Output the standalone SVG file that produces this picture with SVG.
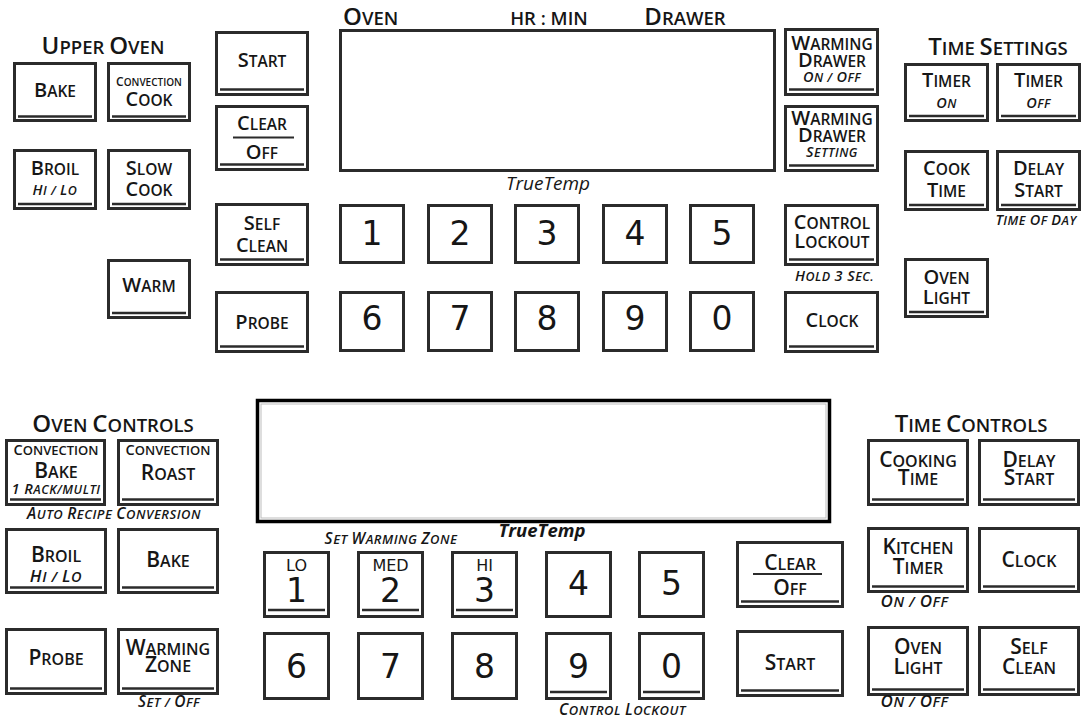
<svg xmlns="http://www.w3.org/2000/svg" width="1086" height="718" viewBox="0 0 1086 718">
<style>
.k rect{fill:#fff;stroke:#2b2b2b;stroke-width:3}
.k line{stroke:#2b2b2b;stroke-width:2.6}
text{font-family:"Open Sans","Liberation Sans",sans-serif;font-weight:600;fill:#161616;text-anchor:middle}
.u{font-size:15.5px}.u .C{font-size:20px}
.l{font-size:16px}.l .C{font-size:21px}
.h{font-size:18.5px}.h .C{font-size:24px}
.i{font-style:italic;font-size:12.5px;letter-spacing:0.5px}.i .C{font-size:14.5px}
.il{font-style:italic;font-size:14.5px;letter-spacing:0.6px}.il .C{font-size:17px}
.ib{font-style:italic;font-size:13px;letter-spacing:0.5px}.ib .C{font-size:15.5px}
.cu{font-size:10px}.cu .C{font-size:12px}
.cl{font-size:13px}.cl .C{font-size:14.5px}
.d{font-family:"DejaVu Sans",sans-serif;font-weight:normal;font-size:33px}
.lm{font-family:"DejaVu Sans",sans-serif;font-weight:normal;font-size:16px}
.tt{font-style:italic;font-weight:500;font-size:19px}
.ttb{font-style:italic;font-weight:700;font-size:18.5px}
.sep{stroke:#2b2b2b;stroke-width:2}
</style>

<!-- titles -->
<g id="title-upper-oven"><text class="h" x="103" y="54"><tspan class="C">U</tspan>PPER <tspan class="C">O</tspan>VEN</text></g>
<g id="title-time-settings"><text class="h" x="998" y="55"><tspan class="C">T</tspan>IME <tspan class="C">S</tspan>ETTINGS</text></g>
<g id="title-oven-controls"><text class="h" x="113" y="432"><tspan class="C">O</tspan>VEN <tspan class="C">C</tspan>ONTROLS</text></g>
<g id="title-time-controls"><text class="h" x="971" y="432"><tspan class="C">T</tspan>IME <tspan class="C">C</tspan>ONTROLS</text></g>

<!-- upper display -->
<g id="upper-display">
<text class="h" x="343" y="25" style="text-anchor:start"><tspan class="C">O</tspan>VEN</text>
<text x="549" y="25" style="font-size:18.5px">HR : MIN</text>
<text class="h" x="685" y="25"><tspan class="C">D</tspan>RAWER</text>
<rect x="340.5" y="30.5" width="434" height="140" fill="#fff" stroke="#2b2b2b" stroke-width="3"/>
<text class="tt" x="548" y="190">TrueTemp</text>
</g>

<!-- upper left -->
<g id="u-bake" class="k"><rect x="14.5" y="63.5" width="81" height="57"/><line x1="18" y1="116.5" x2="92" y2="116.5"/>
<text class="u" x="55" y="97"><tspan class="C">B</tspan>AKE</text></g>
<g id="u-conv-cook" class="k"><rect x="108.5" y="63.5" width="81" height="57"/><line x1="112" y1="116.5" x2="186" y2="116.5"/>
<text class="cu" x="149" y="86"><tspan class="C">C</tspan>ONVECTION</text>
<text class="u" x="149" y="106"><tspan class="C">C</tspan>OOK</text></g>
<g id="u-broil" class="k"><rect x="14.5" y="150.5" width="81" height="58"/><line x1="18" y1="204" x2="92" y2="204"/>
<text class="u" x="55" y="175"><tspan class="C">B</tspan>ROIL</text>
<text class="i" x="55" y="195"><tspan class="C">H</tspan>I / <tspan class="C">L</tspan>O</text></g>
<g id="u-slow-cook" class="k"><rect x="108.5" y="150.5" width="81" height="58"/><line x1="112" y1="204" x2="186" y2="204"/>
<text class="u" x="149" y="175"><tspan class="C">S</tspan>LOW</text>
<text class="u" x="149" y="195.5"><tspan class="C">C</tspan>OOK</text></g>
<g id="u-warm" class="k"><rect x="108.5" y="260.5" width="81" height="57"/><line x1="112" y1="313" x2="186" y2="313"/>
<text class="u" x="149" y="291.5"><tspan class="C">W</tspan>ARM</text></g>

<!-- upper middle column -->
<g id="u-start" class="k"><rect x="216.5" y="32.5" width="91" height="62"/><line x1="220" y1="89.5" x2="304" y2="89.5"/>
<text class="u" x="262" y="67"><tspan class="C">S</tspan>TART</text></g>
<g id="u-clear-off" class="k"><rect x="216.5" y="106.5" width="91" height="63"/><line x1="220" y1="164.5" x2="304" y2="164.5"/>
<text class="u" x="262" y="130"><tspan class="C">C</tspan>LEAR</text>
<line class="sep" x1="233" y1="137.5" x2="294" y2="137.5" style="stroke-width:2"/>
<text class="u" x="262" y="158.5"><tspan class="C">O</tspan>FF</text></g>
<g id="u-self-clean" class="k"><rect x="216.5" y="204.5" width="91" height="60"/><line x1="220" y1="259.5" x2="304" y2="259.5"/>
<text class="u" x="262" y="230"><tspan class="C">S</tspan>ELF</text>
<text class="u" x="262" y="251.5"><tspan class="C">C</tspan>LEAN</text></g>
<g id="u-probe" class="k"><rect x="216.5" y="292.5" width="91" height="59"/><line x1="220" y1="346.5" x2="304" y2="346.5"/>
<text class="u" x="262" y="328.5"><tspan class="C">P</tspan>ROBE</text></g>

<!-- upper keypad -->
<g id="u-key-1" class="k"><rect x="340.5" y="205.5" width="63" height="57"/><text class="d" x="372" y="245">1</text></g>
<g id="u-key-2" class="k"><rect x="428.5" y="205.5" width="63" height="57"/><text class="d" x="460" y="245">2</text></g>
<g id="u-key-3" class="k"><rect x="515.5" y="205.5" width="63" height="57"/><text class="d" x="547" y="245">3</text></g>
<g id="u-key-4" class="k"><rect x="603.5" y="205.5" width="63" height="57"/><text class="d" x="635" y="245">4</text></g>
<g id="u-key-5" class="k"><rect x="690.5" y="205.5" width="63" height="57"/><text class="d" x="722" y="245">5</text></g>
<g id="u-key-6" class="k"><rect x="340.5" y="292.5" width="63" height="58"/><text class="d" x="372" y="330">6</text></g>
<g id="u-key-7" class="k"><rect x="428.5" y="292.5" width="63" height="58"/><text class="d" x="460" y="330">7</text></g>
<g id="u-key-8" class="k"><rect x="515.5" y="292.5" width="63" height="58"/><text class="d" x="547" y="330">8</text></g>
<g id="u-key-9" class="k"><rect x="603.5" y="292.5" width="63" height="58"/><text class="d" x="635" y="330">9</text></g>
<g id="u-key-0" class="k"><rect x="690.5" y="292.5" width="63" height="58"/><text class="d" x="722" y="330">0</text></g>

<!-- upper right column -->
<g id="u-wd-onoff" class="k"><rect x="785.5" y="29.5" width="92" height="65"/><line x1="789" y1="89.5" x2="874" y2="89.5"/>
<text class="u" x="832" y="49.5"><tspan class="C">W</tspan>ARMING</text>
<text class="u" x="832" y="66.5"><tspan class="C">D</tspan>RAWER</text>
<text class="i" x="832" y="82"><tspan class="C">O</tspan>N / <tspan class="C">O</tspan>FF</text></g>
<g id="u-wd-setting" class="k"><rect x="785.5" y="106.5" width="92" height="64"/><line x1="789" y1="165.5" x2="874" y2="165.5"/>
<text class="u" x="832" y="125"><tspan class="C">W</tspan>ARMING</text>
<text class="u" x="832" y="141.5"><tspan class="C">D</tspan>RAWER</text>
<text class="i" x="832" y="157"><tspan class="C">S</tspan>ETTING</text></g>
<g id="u-control-lockout" class="k"><rect x="785.5" y="205.5" width="92" height="59"/><line x1="789" y1="259.5" x2="874" y2="259.5"/>
<text class="u" x="832" y="228.5"><tspan class="C">C</tspan>ONTROL</text>
<text class="u" x="832" y="248"><tspan class="C">L</tspan>OCKOUT</text>
<text class="i" x="834.5" y="281"><tspan class="C">H</tspan>OLD <tspan class="C">3 S</tspan>EC.</text></g>
<g id="u-clock" class="k"><rect x="785.5" y="292.5" width="92" height="59"/><line x1="789" y1="346.5" x2="874" y2="346.5"/>
<text class="u" x="832" y="327"><tspan class="C">C</tspan>LOCK</text></g>

<!-- time settings -->
<g id="u-timer-on" class="k"><rect x="905.5" y="64.5" width="82" height="56"/><line x1="909" y1="116" x2="984" y2="116"/>
<text class="u" x="946.5" y="87"><tspan class="C">T</tspan>IMER</text>
<text class="i" x="946.5" y="107.5"><tspan class="C">O</tspan>N</text></g>
<g id="u-timer-off" class="k"><rect x="997.5" y="64.5" width="82" height="56"/><line x1="1001" y1="116" x2="1076" y2="116"/>
<text class="u" x="1038.5" y="87"><tspan class="C">T</tspan>IMER</text>
<text class="i" x="1038.5" y="107.5"><tspan class="C">O</tspan>FF</text></g>
<g id="u-cook-time" class="k"><rect x="905.5" y="151.5" width="82" height="58"/><line x1="909" y1="205" x2="984" y2="205"/>
<text class="u" x="946.5" y="175"><tspan class="C">C</tspan>OOK</text>
<text class="u" x="946.5" y="196.5"><tspan class="C">T</tspan>IME</text></g>
<g id="u-delay-start" class="k"><rect x="997.5" y="151.5" width="82" height="58"/><line x1="1001" y1="205" x2="1076" y2="205"/>
<text class="u" x="1038.5" y="175"><tspan class="C">D</tspan>ELAY</text>
<text class="u" x="1038.5" y="196.5"><tspan class="C">S</tspan>TART</text>
<text class="i" x="1036" y="225"><tspan class="C">T</tspan>IME <tspan class="C">O</tspan>F <tspan class="C">D</tspan>AY</text></g>
<g id="u-oven-light" class="k"><rect x="905.5" y="259.5" width="82" height="57"/><line x1="909" y1="312" x2="984" y2="312"/>
<text class="u" x="946.5" y="283.5"><tspan class="C">O</tspan>VEN</text>
<text class="u" x="946.5" y="303.5"><tspan class="C">L</tspan>IGHT</text></g>

<!-- lower display -->
<g id="lower-display">
<rect x="257.5" y="400.5" width="572" height="121" fill="#fff" stroke="#000" stroke-width="3.5"/>
<rect x="261" y="404" width="565" height="114" fill="none" stroke="#bdbdbd" stroke-width="1"/>
<text class="ttb" x="542" y="537">TrueTemp</text>
<text class="ib" x="391" y="544"><tspan class="C">S</tspan>ET <tspan class="C">W</tspan>ARMING <tspan class="C">Z</tspan>ONE</text>
</g>

<!-- oven controls -->
<g id="l-conv-bake" class="k"><rect x="6.5" y="440.5" width="98" height="64"/><line x1="10" y1="499.5" x2="101" y2="499.5"/>
<text class="cl" x="56" y="455"><tspan class="C">C</tspan>ONVECTION</text>
<text class="l" x="56" y="477.5"><tspan class="C">B</tspan>AKE</text>
<text class="i" x="56" y="494"><tspan class="C">1 R</tspan>ACK/MULTI</text></g>
<g id="l-conv-roast" class="k"><rect x="118.5" y="440.5" width="99" height="64"/><line x1="122" y1="499.5" x2="214" y2="499.5"/>
<text class="cl" x="168" y="455"><tspan class="C">C</tspan>ONVECTION</text>
<text class="l" x="168" y="480"><tspan class="C">R</tspan>OAST</text>
<text class="ib" x="114" y="518.5"><tspan class="C">A</tspan>UTO <tspan class="C">R</tspan>ECIPE <tspan class="C">C</tspan>ONVERSION</text></g>
<g id="l-broil" class="k"><rect x="6.5" y="529.5" width="99" height="63"/><line x1="10" y1="587.5" x2="102" y2="587.5"/>
<text class="l" x="56" y="561.5"><tspan class="C">B</tspan>ROIL</text>
<text class="il" x="56" y="581.5"><tspan class="C">H</tspan>I / <tspan class="C">L</tspan>O</text></g>
<g id="l-bake" class="k"><rect x="118.5" y="529.5" width="99" height="63"/><line x1="122" y1="587.5" x2="214" y2="587.5"/>
<text class="l" x="168" y="567"><tspan class="C">B</tspan>AKE</text></g>
<g id="l-probe" class="k"><rect x="6.5" y="629.5" width="99" height="64"/><line x1="10" y1="688.5" x2="102" y2="688.5"/>
<text class="l" x="56" y="665"><tspan class="C">P</tspan>ROBE</text></g>
<g id="l-warming-zone" class="k"><rect x="118.5" y="629.5" width="99" height="64"/><line x1="122" y1="688.5" x2="214" y2="688.5"/>
<text class="l" x="168" y="654.5"><tspan class="C">W</tspan>ARMING</text>
<text class="l" x="168" y="672"><tspan class="C">Z</tspan>ONE</text>
<text class="ib" x="169" y="707"><tspan class="C">S</tspan>ET / <tspan class="C">O</tspan>FF</text></g>

<!-- lower keypad -->
<g id="l-key-1" class="k"><rect x="264.5" y="552.5" width="64" height="64"/><line x1="268" y1="610" x2="325" y2="610"/>
<text class="lm" x="296.5" y="571">LO</text><text class="d" x="296.5" y="602">1</text></g>
<g id="l-key-2" class="k"><rect x="358.5" y="552.5" width="64" height="64"/><line x1="362" y1="610" x2="419" y2="610"/>
<text class="lm" x="390.5" y="571">MED</text><text class="d" x="390.5" y="602">2</text></g>
<g id="l-key-3" class="k"><rect x="452.5" y="552.5" width="64" height="64"/><line x1="456" y1="610" x2="513" y2="610"/>
<text class="lm" x="484.5" y="571">HI</text><text class="d" x="484.5" y="602">3</text></g>
<g id="l-key-4" class="k"><rect x="546.5" y="552.5" width="64" height="64"/><text class="d" x="578.5" y="595">4</text></g>
<g id="l-key-5" class="k"><rect x="639.5" y="552.5" width="64" height="64"/><text class="d" x="671.5" y="595">5</text></g>
<g id="l-key-6" class="k"><rect x="264.5" y="633.5" width="64" height="65"/><text class="d" x="296.5" y="678">6</text></g>
<g id="l-key-7" class="k"><rect x="358.5" y="633.5" width="64" height="65"/><text class="d" x="390.5" y="678">7</text></g>
<g id="l-key-8" class="k"><rect x="452.5" y="633.5" width="64" height="65"/><text class="d" x="484.5" y="678">8</text></g>
<g id="l-key-9" class="k"><rect x="546.5" y="633.5" width="64" height="65"/><line x1="550" y1="692" x2="607" y2="692"/><text class="d" x="578.5" y="678">9</text></g>
<g id="l-key-0" class="k"><rect x="639.5" y="633.5" width="64" height="65"/><line x1="643" y1="692" x2="700" y2="692"/><text class="d" x="671.5" y="678">0</text>
<text class="ib" x="622.5" y="714.5"><tspan class="C">C</tspan>ONTROL <tspan class="C">L</tspan>OCKOUT</text></g>

<g id="l-clear-off" class="k"><rect x="737.5" y="542.5" width="105" height="64"/><line x1="741" y1="601.5" x2="839" y2="601.5"/>
<text class="l" x="790" y="570"><tspan class="C">C</tspan>LEAR</text>
<line class="sep" x1="753" y1="574" x2="822" y2="574" style="stroke-width:1.8"/>
<text class="l" x="790" y="595"><tspan class="C">O</tspan>FF</text></g>
<g id="l-start" class="k"><rect x="737.5" y="631.5" width="105" height="64"/><line x1="741" y1="690.5" x2="839" y2="690.5"/>
<text class="l" x="790" y="670"><tspan class="C">S</tspan>TART</text></g>

<!-- time controls -->
<g id="l-cooking-time" class="k"><rect x="868.5" y="440.5" width="99" height="64"/><line x1="872" y1="499.5" x2="964" y2="499.5"/>
<text class="l" x="918" y="466.5"><tspan class="C">C</tspan>OOKING</text>
<text class="l" x="918" y="485"><tspan class="C">T</tspan>IME</text></g>
<g id="l-delay-start" class="k"><rect x="979.5" y="440.5" width="99" height="64"/><line x1="983" y1="499.5" x2="1075" y2="499.5"/>
<text class="l" x="1029" y="466.5"><tspan class="C">D</tspan>ELAY</text>
<text class="l" x="1029" y="485"><tspan class="C">S</tspan>TART</text></g>
<g id="l-kitchen-timer" class="k"><rect x="868.5" y="528.5" width="99" height="63"/><line x1="872" y1="586.5" x2="964" y2="586.5"/>
<text class="l" x="918" y="554"><tspan class="C">K</tspan>ITCHEN</text>
<text class="l" x="918" y="573.5"><tspan class="C">T</tspan>IMER</text>
<text class="il" x="914.5" y="607"><tspan class="C">O</tspan>N / <tspan class="C">O</tspan>FF</text></g>
<g id="l-clock" class="k"><rect x="979.5" y="528.5" width="99" height="63"/><line x1="983" y1="586.5" x2="1075" y2="586.5"/>
<text class="l" x="1029" y="567"><tspan class="C">C</tspan>LOCK</text></g>
<g id="l-oven-light" class="k"><rect x="868.5" y="627.5" width="99" height="67"/><line x1="872" y1="689.5" x2="964" y2="689.5"/>
<text class="l" x="918" y="653.5"><tspan class="C">O</tspan>VEN</text>
<text class="l" x="918" y="673.5"><tspan class="C">L</tspan>IGHT</text>
<text class="il" x="914.5" y="707"><tspan class="C">O</tspan>N / <tspan class="C">O</tspan>FF</text></g>
<g id="l-self-clean" class="k"><rect x="979.5" y="627.5" width="99" height="67"/><line x1="983" y1="689.5" x2="1075" y2="689.5"/>
<text class="l" x="1029" y="653.5"><tspan class="C">S</tspan>ELF</text>
<text class="l" x="1029" y="673.5"><tspan class="C">C</tspan>LEAN</text></g>
</svg>
